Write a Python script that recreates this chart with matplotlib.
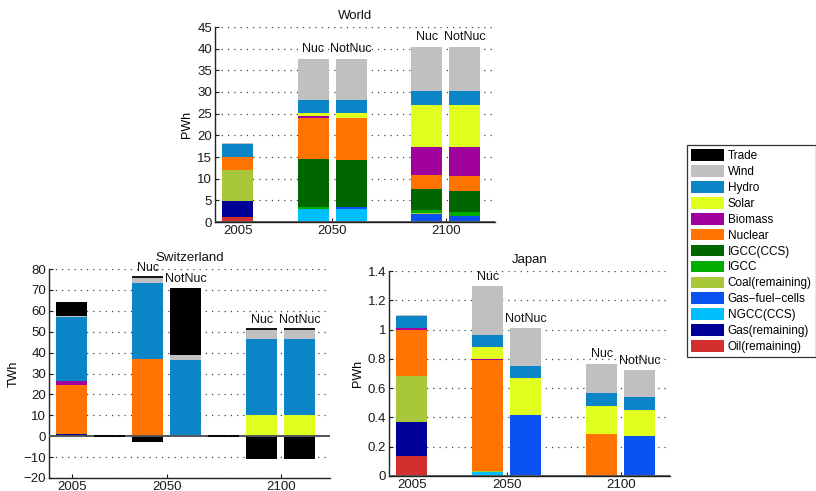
import matplotlib
matplotlib.use("Agg")
import matplotlib.pyplot as plt
from matplotlib.patches import Patch

plt.rcParams['font.family'] = ['Liberation Sans', 'DejaVu Sans']

# Technologies, bottom of stack first
techs = ["Oil(remaining)", "Gas(remaining)", "NGCC(CCS)", "Gas\u2212fuel\u2212cells",
         "Coal(remaining)", "IGCC", "IGCC(CCS)", "Nuclear", "Biomass", "Solar",
         "Hydro", "Wind", "Trade"]
colors = ["#d32f2f", "#000099", "#00bfff", "#0b52f2", "#a9c73a", "#00ad00",
          "#006700", "#ff7300", "#a0009c", "#e1ff1e", "#0b84c8", "#c0c0c0", "#000000"]

# Bar slots: 2005, (gap), 2050 Nuc, 2050 NotNuc, (gap), 2100 Nuc, 2100 NotNuc
slot_labels = ["", "", "Nuc", "NotNuc", "", "Nuc", "NotNuc"]
year_ticks = ["2005", "2050", "2100"]

# World, PWh  (rows follow `techs`)
world = [
    [1.1, 0, 0, 0, 0, 0, 0],            # Oil
    [3.7, 0, 0, 0, 0, 0, 0],            # Gas
    [0, 0, 3.05, 3.0, 0, 0, 0],         # NGCC(CCS)
    [0.1, 0, 0, 0.5, 0, 1.85, 1.45],    # Gas-fuel-cells
    [7.1, 0, 0, 0, 0, 0.25, 0],         # Coal
    [0, 0, 0.3, 0, 0, 0.6, 0.9],        # IGCC
    [0, 0, 11.25, 10.9, 0, 4.9, 4.85],  # IGCC(CCS)
    [2.9, 0, 9.5, 9.7, 0, 3.3, 3.5],    # Nuclear
    [0.2, 0, 0.3, 0, 0, 6.5, 6.7],      # Biomass
    [0, 0, 0.7, 1.0, 0, 9.7, 9.7],      # Solar
    [2.9, 0, 3.1, 3.1, 0, 3.2, 3.2],    # Hydro
    [0.2, 0, 9.5, 9.5, 0, 10.1, 10.1],  # Wind
    [0, 0, 0, 0, 0, 0, 0],              # Trade
]

# Switzerland, TWh
switzerland = [
    [0, 0, 0, 0, 0, 0, 0],
    [1.0, 0, 0, 0, 0, 0, 0],
    [0, 0, 0, 0, 0, 0, 0],
    [0, 0, 0, 0, 0, 0, 0],
    [0, 0, 0, 0, 0, 0, 0],
    [0, 0, 0, 0, 0, 0, 0],
    [0, 0, 0, 0, 0, 0, 0],
    [23.3, 0, 37.1, 0, 0, 0, 0],
    [2.2, 0, 0, 0, 0, 0, 0],
    [0, 0, 0, 0, 0, 10.2, 10.2],
    [30.7, 0, 36.4, 36.6, 0, 36.4, 36.4],
    [0.5, 0, 2.5, 2.4, 0, 4.5, 4.5],
    [6.7, 0, -2.6, 31.9, 0, -10.9, -10.9],
]

# Japan, PWh
japan = [
    [0.14, 0, 0, 0, 0, 0, 0],
    [0.23, 0, 0, 0, 0, 0, 0],
    [0, 0, 0.028, 0, 0, 0, 0],
    [0, 0, 0, 0.414, 0, 0, 0.27],
    [0.315, 0, 0.004, 0, 0, 0, 0],
    [0, 0, 0, 0, 0, 0, 0],
    [0, 0, 0, 0, 0, 0, 0],
    [0.31, 0, 0.758, 0, 0, 0.29, 0],
    [0.015, 0, 0.01, 0, 0, 0, 0],
    [0, 0, 0.08, 0.253, 0, 0.19, 0.178],
    [0.08, 0, 0.085, 0.086, 0, 0.088, 0.089],
    [0.007, 0, 0.33, 0.255, 0, 0.198, 0.185],
    [0, 0, 0, 0, 0, 0, 0],
]

W, H = 816, 491
fig = plt.figure(figsize=(W / 100, H / 100), dpi=100)

def make_ax(l, r, t, b):
    return fig.add_axes([l / W, 1 - b / H, (r - l) / W, (b - t) / H])

xs = list(range(1, 8))
bw = 0.82

def draw(ax, data, title, ylabel, ylim, yticks, trade_line=False):
    npos = [0.0] * 7
    nneg = [0.0] * 7
    for k, row in enumerate(data):
        for i, v in enumerate(row):
            if v > 0:
                ax.bar(xs[i], v, bw, bottom=npos[i], color=colors[k], lw=0, zorder=3)
                npos[i] += v
            elif v < 0:
                ax.bar(xs[i], v, bw, bottom=nneg[i], color=colors[k], lw=0, zorder=3)
                nneg[i] += v
    ax.axhline(0, color='#555555', lw=1.4, zorder=4)
    if trade_line:
        trade = data[-1]
        for i in range(7):
            if trade[i] <= 0:
                ax.hlines(npos[i], xs[i] - bw / 2, xs[i] + bw / 2, color='k', lw=1.3, zorder=5)
    for i, lab in enumerate(slot_labels):
        if lab:
            ax.annotate(lab, (xs[i], npos[i]), xytext=(0, 2.5), textcoords='offset points',
                        ha='center', va='bottom', fontsize=9, color='#111111', zorder=6)
    ax.set_xlim(0.4, 7.8)
    ax.set_ylim(*ylim)
    ax.set_yticks(yticks)
    ax.set_yticklabels([("%g" % y).replace("-", "\u2212") for y in yticks])
    ax.set_xticks([1, 3.5, 6.5])
    ax.set_xticklabels(year_ticks)
    ax.grid(axis='y', color='#444444', linestyle=(0, (1, 4)), lw=0.9, zorder=1)
    ax.set_axisbelow(True)
    for s in ['top', 'right']:
        ax.spines[s].set_visible(False)
    for s in ['left', 'bottom']:
        ax.spines[s].set_linewidth(1.0)
        ax.spines[s].set_color('#222222')
    ax.tick_params(direction='in', length=3, labelsize=9.5, colors='#1a1a1a', pad=2)
    ax.set_title(title, fontsize=9.5, pad=6, color='#111111')
    ax.set_ylabel(ylabel, fontsize=9, labelpad=3)

ax_w = make_ax(215, 495, 27, 222)
draw(ax_w, world, "World", "PWh", (0, 45), list(range(0, 46, 5)))

ax_c = make_ax(49, 330, 269, 478)
draw(ax_c, switzerland, "Switzerland", "TWh", (-20, 80), list(range(-20, 81, 10)), trade_line=True)

ax_j = make_ax(389, 670, 271, 476)
draw(ax_j, japan, "Japan", "PWh", (0, 1.4), [0, 0.2, 0.4, 0.6, 0.8, 1, 1.2, 1.4])

handles = [Patch(facecolor=colors[k], edgecolor='none', label=techs[k])
           for k in range(len(techs) - 1, -1, -1)]
leg = fig.legend(handles=handles, loc='upper left', bbox_to_anchor=(687 / W, 1 - 145 / H),
                 fontsize=8.5, frameon=True, fancybox=False, edgecolor='black',
                 handlelength=2.8, handleheight=1.15, labelspacing=0.26, borderpad=0.35,
                 handletextpad=0.3, borderaxespad=0)
leg.get_frame().set_linewidth(0.9)

fig.savefig("out.png", dpi=100)
